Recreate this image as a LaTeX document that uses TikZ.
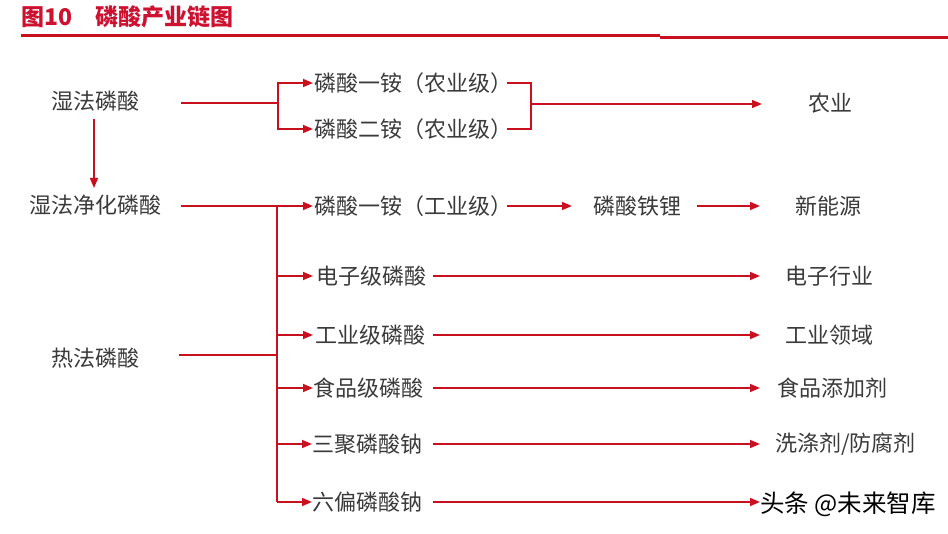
\documentclass[tikz,border=0pt]{standalone}
\usepackage{fontspec}
\setmainfont{Noto Sans CJK SC}
\usetikzlibrary{arrows.meta,calc}
\definecolor{lred}{HTML}{C8101E}
\definecolor{txt}{HTML}{3A3A3A}
\definecolor{tred}{HTML}{CC1230}
\begin{document}
\begin{tikzpicture}[x=1pt,y=-1pt,
  lbl/.style={font=\fontsize{22}{22}\selectfont, text=txt, inner sep=0pt},
  ttl/.style={font=\fontsize{23}{23}\bfseries\selectfont, text=tred, inner sep=0pt, anchor=west},
  ln/.style={draw=lred, line width=1.5pt},
  arr/.style={ln, -{Triangle[length=10pt,width=8pt]}}]
\useasboundingbox[fill=white] (0,0) rectangle (948,534);

% title
\node[ttl] (t1) at (21,17) {图10};
\node[ttl] (t2) at (95,17) {磷酸产业链图};
\coordinate (r0) at (21,35.2);
\coordinate (r1) at (660,35.2);
\coordinate (r2) at (660,37.2);
\coordinate (r3) at (948,37.2);
\draw[draw=lred, line width=2.8pt] (r0) -- (r1);
\draw[draw=lred, line width=2.8pt] (r2) -- (r3);

% left sources
\node[lbl] (wet) at (95,101) {湿法磷酸};
\node[lbl] (wetp) at (95,205) {湿法净化磷酸};
\node[lbl] (hot) at (95,358) {热法磷酸};

% middle products
\node[lbl, anchor=west] (m1) at (314,83) {磷酸一铵（农业级）};
\node[lbl, anchor=west] (m2) at (314,129) {磷酸二铵（农业级）};
\node[lbl, anchor=west] (m3) at (314,206) {磷酸一铵（工业级）};
\node[lbl, anchor=west] (m4) at (316,276) {电子级磷酸};
\node[lbl, anchor=west] (m5) at (315,335) {工业级磷酸};
\node[lbl, anchor=west] (m6) at (313,388) {食品级磷酸};
\node[lbl, anchor=west] (m7) at (312,444) {三聚磷酸钠};
\node[lbl, anchor=west] (m8) at (312,502) {六偏磷酸钠};
\node[lbl, anchor=west] (lfp) at (593,206) {磷酸铁锂};

% right uses
\node[lbl, anchor=west] (u1) at (808,103) {农业};
\node[lbl, anchor=west] (u2) at (795,206) {新能源};
\node[lbl, anchor=west] (u3) at (785,276) {电子行业};
\node[lbl, anchor=west] (u4) at (785,335) {工业领域};
\node[lbl, anchor=west] (u5) at (777,388) {食品添加剂};
\node[lbl, anchor=west] (u6) at (775,444) {洗涤剂/防腐剂};
\node[font=\fontsize{24.5}{25}\selectfont, text=black, inner sep=0pt, anchor=west] (wm) at (760,504) {头条 @未来智库};

% junction and helper points
\coordinate (ja) at (278,103);
\coordinate (jb) at (531,104);
\coordinate (jc) at (277,206);
\coordinate (jd) at (277,502);
\coordinate (jh) at (277,355);
\coordinate (hs) at (179,355);
\coordinate (ws) at (181,103);
\coordinate (ps) at (181,206);
\coordinate (ag) at (762,104);
\coordinate (s3) at (507,206);
\coordinate (e3) at (572,206);
\coordinate (s9) at (697,206);
\coordinate (e9) at (760,206);
\coordinate (tip) at (760,0);
\coordinate (st) at (433,0);

% wet -> agricultural ammonium phosphates
\draw[ln] (ws) -- (ja);
\draw[arr] (ja) |- ($(m1.west)+(-1,0)$);
\draw[arr] (ja) |- ($(m2.west)+(-1,0)$);
\draw[ln] ($(m1.west)+(193,0)$) -| (jb) |- ($(m2.west)+(193,0)$);
\draw[arr] (jb) -- (ag);

% wet -> purified
\draw[arr] ($(wet.center)+(-1,18)$) -- ($(wet.center)+(-1,87)$);

% trunk
\draw[ln] (ps) -- (jc);
\draw[ln] (jc) -- (jd);
\draw[ln] (hs) -- (jh);
\draw[arr] (jc) -- ($(m3.west)+(-1,0)$);
\draw[arr] (jc |- m4) -- ($(m4.west)+(-3,0)$);
\draw[arr] (jc |- m5) -- ($(m5.west)+(-2,0)$);
\draw[arr] (jc |- m6) -- (m6.west);
\draw[arr] (jc |- m7) -- (m7.west);
\draw[arr] (jd) -- (m8.west);

% to uses
\draw[arr] (s3) -- (e3);
\draw[arr] (s9) -- (e9);
\draw[arr] (st |- m4) -- (tip |- m4);
\draw[arr] (st |- m5) -- (tip |- m5);
\draw[arr] (st |- m6) -- (tip |- m6);
\draw[arr] (st |- m7) -- (tip |- m7);
\draw[arr] (st |- m8) -- (tip |- m8);
\end{tikzpicture}
\end{document}
